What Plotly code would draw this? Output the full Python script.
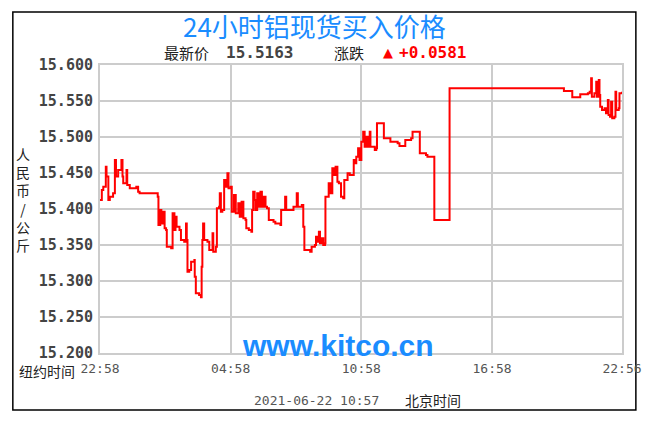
import pandas as pd
import plotly.graph_objects as go

# ---- data (minutes after 22:58 New York time, price in CNY/kg) ----
minutes = [0, 5, 9, 15, 16, 18, 23, 27, 36, 41, 44, 50, 59, 62, 64, 73, 75, 82, 100, 105,
           109, 155, 159, 161, 166, 169, 173, 178, 182, 184, 196, 200, 205, 208, 211, 219, 223, 232, 237, 239,
           241, 246, 251, 260, 261, 264, 273, 278, 280, 282, 284, 287, 296, 301, 310, 312, 319, 322, 328, 330,
           333, 337, 342, 346, 351, 354, 360, 363, 369, 374, 381, 385, 390, 395, 401, 403, 410, 417, 419, 422,
           426, 428, 433, 437, 442, 446, 451, 456, 460, 465, 478, 483, 497, 499, 506, 510, 513, 529, 533, 542,
           545, 556, 560, 563, 579, 583, 592, 595, 600, 603, 606, 611, 615, 620, 621, 629, 630, 635, 640, 644,
           649, 654, 658, 664, 670, 673, 679, 682, 688, 697, 699, 702, 706, 711, 715, 720, 725, 729, 734, 738,
           743, 745, 757, 761, 763, 779, 782, 797, 800, 820, 825, 838, 841, 857, 861, 879, 881, 898, 902, 919,
           921, 962, 963, 1276, 1278, 1299, 1301, 1321, 1323, 1344, 1349, 1353, 1355, 1362, 1367, 1369, 1374, 1376, 1378, 1383,
           1390, 1394, 1399, 1401, 1405, 1408, 1411, 1417, 1420, 1422, 1429, 1431, 1438]
prices = [15.4125, 15.4264, 15.4310, 15.4310, 15.4588, 15.4450, 15.4125, 15.4170, 15.4218, 15.4680,
          15.4450, 15.4542, 15.4680, 15.4450, 15.4357, 15.4542, 15.4333, 15.4287, 15.4310, 15.4240,
          15.4218, 15.4218, 15.4170, 15.3778, 15.3986, 15.3800, 15.3963, 15.3732, 15.3708, 15.3477,
          15.3454, 15.3940, 15.3708, 15.3893, 15.3755, 15.3708, 15.3570, 15.3546, 15.3800, 15.3570,
          15.3129, 15.3153, 15.3268, 15.3292, 15.3060, 15.2829, 15.2806, 15.2774, 15.3199, 15.3570,
          15.3800, 15.3570, 15.3546, 15.3430, 15.3662, 15.3407, 15.3477, 15.4010, 15.4032, 15.4218,
          15.3963, 15.3986, 15.4403, 15.4310, 15.4496, 15.4287, 15.4310, 15.3963, 15.4194, 15.3940,
          15.4079, 15.3893, 15.4102, 15.3870, 15.3847, 15.3732, 15.3708, 15.3685, 15.3986, 15.4240,
          15.4125, 15.3986, 15.4218, 15.4032, 15.4240, 15.4032, 15.4171, 15.4032, 15.4010, 15.3847,
          15.3824, 15.3800, 15.3778, 15.3986, 15.3986, 15.4171, 15.3986, 15.3986, 15.4032, 15.4218,
          15.4032, 15.4056, 15.3755, 15.3430, 15.3407, 15.3477, 15.3500, 15.3616, 15.3546, 15.3685,
          15.3523, 15.3593, 15.3500, 15.3523, 15.4171, 15.4171, 15.4357, 15.4218, 15.4565, 15.4472,
          15.4588, 15.4380, 15.4357, 15.4171, 15.4148, 15.4403, 15.4403, 15.4496, 15.4472, 15.4472,
          15.4680, 15.4635, 15.4727, 15.4843, 15.4680, 15.4935, 15.5074, 15.4865, 15.5004, 15.4865,
          15.5074, 15.4865, 15.4819, 15.4843, 15.5190, 15.5190, 15.4982, 15.4982, 15.4935, 15.4912,
          15.4875, 15.4875, 15.4958, 15.4982, 15.5074, 15.5074, 15.4773, 15.4750, 15.4727, 15.4727,
          15.3847, 15.3847, 15.5676, 15.5676, 15.5639, 15.5639, 15.5551, 15.5551, 15.5593, 15.5607,
          15.5630, 15.5815, 15.5560, 15.5607, 15.5769, 15.5560, 15.5792, 15.5583, 15.5421, 15.5375,
          15.5398, 15.5329, 15.5514, 15.5306, 15.5282, 15.5491, 15.5260, 15.5282, 15.5630, 15.5375,
          15.5398, 15.5607, 15.5630]

x_tick_minutes = [0, 360, 720, 1080, 1438]
x_tick_labels = ["22:58", "04:58", "10:58", "16:58", "22:56"]
y_ticks = [15.20, 15.25, 15.30, 15.35, 15.40, 15.45, 15.50, 15.55, 15.60]

title_text = "24小时铝现货买入价格"
last_price = "15.5163"
change = "+0.0581"
beijing_time = "2021-06-22 10:57"

base = pd.Timestamp("2021-06-21 22:58")
xs = [base + pd.Timedelta(minutes=m) for m in minutes]
xtv = [base + pd.Timedelta(minutes=m) for m in x_tick_minutes]

fig = go.Figure()
fig.add_trace(go.Scatter(x=xs, y=prices, mode="lines", line=dict(color="#ff0000", width=2, shape="hv"),
                         hoverinfo="skip", showlegend=False))

# page body has an 8px margin: work in screen pixels, subtract it
OFF = 8
W, H = 654 - OFF, 425 - OFF
L, R, T, B = 100 - OFF, 627 - OFF, 65 - OFF, 353 - OFF


def px(xp):
    return (xp - OFF - L) / (R - L)


def py(yp):
    return (B - (yp - OFF)) / (B - T)


grid = "#cccccc"
fig.update_layout(
    width=W, height=H,
    margin=dict(l=L, r=W - R, t=T, b=H - B),
    paper_bgcolor="#ffffff", plot_bgcolor="#ffffff",
    showlegend=False,
    xaxis=dict(range=[xtv[0], xtv[-1]], tickvals=xtv, ticktext=x_tick_labels,
               showgrid=True, gridcolor=grid, gridwidth=2, zeroline=False,
               showline=True, linecolor=grid, linewidth=2, mirror=True,
               ticks="outside", ticklen=2, tickcolor="rgba(0,0,0,0)",
               tickfont=dict(family="DejaVu Sans Mono", size=13, color="#555555")),
    yaxis=dict(range=[15.2, 15.6], tickvals=y_ticks, ticktext=[f"{v:.3f}" for v in y_ticks],
               showgrid=True, gridcolor=grid, gridwidth=2, zeroline=False,
               showline=True, linecolor=grid, linewidth=2, mirror=True,
               ticks="outside", ticklen=2, tickcolor="rgba(0,0,0,0)",
               tickfont=dict(family="DejaVu Sans Mono", size=15, color="#444444", weight="bold")),
)

ann = []
ann.append(dict(text=title_text, x=px(317), y=py(25), font=dict(family="Noto Sans CJK SC", size=26, color="#1a8cff")))
ann.append(dict(text="最新价", x=px(187), y=py(53), font=dict(family="Noto Sans CJK SC", size=15, color="#222222")))
ann.append(dict(text=last_price, x=px(261), y=py(53), font=dict(family="DejaVu Sans Mono", size=16, color="#444444", weight="bold")))
ann.append(dict(text="涨跌", x=px(351), y=py(53), font=dict(family="Noto Sans CJK SC", size=15, color="#222222")))
ann.append(dict(text="▲", x=px(391), y=py(53), font=dict(family="DejaVu Sans", size=13, color="#ff0000")))
ann.append(dict(text=change, x=px(436), y=py(53), font=dict(family="DejaVu Sans Mono", size=16, color="#ff0000", weight="bold")))
ann.append(dict(text="人<br>民<br>币<br>/<br>公<br>斤", x=px(22), y=py(199),
                font=dict(family="Noto Sans CJK SC", size=14, color="#222222")))
ann.append(dict(text="纽约时间", x=px(77), y=py(371), xanchor="right",
                font=dict(family="Noto Sans CJK SC", size=14, color="#222222")))
ann.append(dict(text="www.kitco.cn", x=px(340), y=py(345), font=dict(family="Liberation Sans", size=30, color="#1a8cff", weight="bold")))
ann.append(dict(text=beijing_time, x=px(319), y=py(400), font=dict(family="DejaVu Sans Mono", size=13, color="#555555")))
ann.append(dict(text="北京时间", x=px(436), y=py(400), font=dict(family="Noto Sans CJK SC", size=14, color="#222222")))
for a in ann:
    a.setdefault("xanchor", "center")
    a.update(xref="paper", yref="paper", showarrow=False, yanchor="middle")
    fig.add_annotation(**a)

fig.add_shape(type="rect", xref="paper", yref="paper", x0=px(12), x1=px(641), y0=py(410), y1=py(12),
              line=dict(color="#000000", width=1.5), fillcolor="rgba(0,0,0,0)", layer="below")

fig.write_html("out.html")
